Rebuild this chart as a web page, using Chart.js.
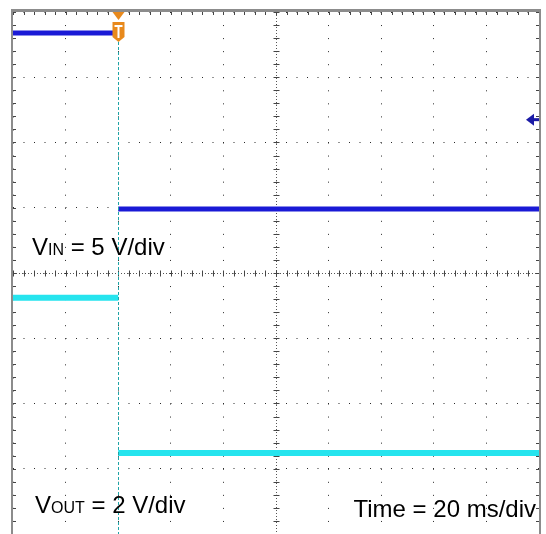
<!DOCTYPE html>
<html>
<head>
<meta charset="utf-8">
<script src="https://cdn.jsdelivr.net/npm/chart.js@4/dist/chart.umd.min.js"></script>
<style>
  html, body { margin: 0; padding: 0; background: #fff; }
  #wrap { position: relative; width: 546px; height: 534px; }
</style>
</head>
<body>
<div id="wrap"><canvas id="scope"></canvas></div>
<script>
// Scope capture, time in ms (20 ms/div), amplitude in divisions from centre
const timeMs = [-40, 0, 0, 0, 160];
const vinDiv = [3.68, 3.68, null, 0.98, 0.98];
const voutDiv = [-0.38, -0.38, null, -2.76, -2.76];
const triggerMs = 0;
const vinMarkerDiv = 2.35;

const vinLabel = ['V', 'IN', ' = 5 V/div'];
const voutLabel = ['V', 'OUT', ' = 2 V/div'];
const timeLabel = 'Time = 20 ms/div';

const toPoints = vals => timeMs.map((t, i) => ({ x: t, y: vals[i] }));

// Frame, centre-cross ticks, trigger marker and labels
const scopeDecor = {
    id: 'scopeDecor',
    beforeDatasetsDraw(chart) {
        const ctx = chart.ctx;
        const xs = chart.scales.x, ys = chart.scales.y;
        const a = chart.chartArea;
        const cx = Math.round(xs.getPixelForValue(60)) + 0.5;
        const cy = Math.round(ys.getPixelForValue(0)) + 0.5;
        ctx.save();
        // dense dotted centre cross
        ctx.strokeStyle = '#555';
        ctx.lineWidth = 1;
        ctx.setLineDash([1, 2]);
        ctx.beginPath();
        ctx.moveTo(a.left, cy); ctx.lineTo(a.right, cy);
        ctx.moveTo(cx, a.top); ctx.lineTo(cx, a.bottom);
        ctx.stroke();
        ctx.setLineDash([]);

        // ticks along centre lines and edges, every 1/5 div
        ctx.strokeStyle = '#444';
        ctx.beginPath();
        for (let t = -40; t <= 160; t += 4) {
            const px = Math.round(xs.getPixelForValue(t)) + 0.5;
            ctx.moveTo(px, cy - 3); ctx.lineTo(px, cy + 3);
            ctx.moveTo(px, a.top); ctx.lineTo(px, a.top + 3);
        }
        for (let v = -4; v <= 4.001; v += 0.2) {
            const py = Math.round(ys.getPixelForValue(v)) + 0.5;
            ctx.moveTo(cx - 3, py); ctx.lineTo(cx + 3, py);
            ctx.moveTo(a.left, py); ctx.lineTo(a.left + 3, py);
            ctx.moveTo(a.right - 3, py); ctx.lineTo(a.right, py);
        }
        ctx.stroke();
        ctx.restore();
    },
    afterDatasetsDraw(chart) {
        const ctx = chart.ctx;
        const xs = chart.scales.x, ys = chart.scales.y;
        const a = chart.chartArea;
        ctx.save();

        // frame
        ctx.strokeStyle = '#8c8c8c';
        ctx.lineWidth = 2;
        ctx.strokeRect(a.left - 1, a.top - 1, a.right - a.left + 2, a.bottom - a.top + 2);
        ctx.fillStyle = '#8c8c8c';
        ctx.fillRect(a.left - 2, a.top - 3, a.right - a.left + 4, 2);

        // trigger line
        const tx = Math.round(xs.getPixelForValue(triggerMs)) + 0.5;
        ctx.strokeStyle = '#1fa3a6';
        ctx.lineWidth = 1;
        ctx.setLineDash([3, 2]);
        ctx.beginPath();
        ctx.moveTo(tx, a.top + 30);
        ctx.lineTo(tx, a.bottom);
        ctx.stroke();
        ctx.setLineDash([]);

        // trigger marker: triangle + "T" shield
        ctx.fillStyle = '#e8891c';
        ctx.beginPath();
        ctx.moveTo(tx - 6, a.top);
        ctx.lineTo(tx + 6, a.top);
        ctx.lineTo(tx, a.top + 8);
        ctx.closePath();
        ctx.fill();
        ctx.beginPath();
        ctx.moveTo(tx - 6, a.top + 10);
        ctx.lineTo(tx + 6, a.top + 10);
        ctx.lineTo(tx + 6, a.top + 25);
        ctx.lineTo(tx, a.top + 30);
        ctx.lineTo(tx - 6, a.top + 25);
        ctx.closePath();
        ctx.fill();
        ctx.fillStyle = '#fff';
        ctx.fillRect(tx - 4, a.top + 13, 8, 2);
        ctx.fillRect(tx - 1, a.top + 13, 2, 13);

        // channel 1 reference arrow on the right edge
        const my = ys.getPixelForValue(vinMarkerDiv);
        ctx.fillStyle = '#1b1ba6';
        ctx.beginPath();
        ctx.moveTo(a.right - 13, my);
        ctx.lineTo(a.right - 5, my - 6);
        ctx.lineTo(a.right - 5, my + 6);
        ctx.closePath();
        ctx.fill();
        ctx.fillRect(a.right - 6, my - 1.5, 6, 3);

        // labels
        ctx.fillStyle = '#000';
        ctx.textBaseline = 'alphabetic';
        const drawSub = (parts, x, y) => {
            ctx.textAlign = 'left';
            ctx.font = '24px "Liberation Sans", Arial, sans-serif';
            ctx.fillText(parts[0], x, y);
            x += ctx.measureText(parts[0]).width;
            ctx.font = '16px "Liberation Sans", Arial, sans-serif';
            ctx.fillText(parts[1], x, y);
            x += ctx.measureText(parts[1]).width;
            ctx.font = '24px "Liberation Sans", Arial, sans-serif';
            ctx.fillText(parts[2], x, y);
        };
        drawSub(vinLabel, 32, 255);
        drawSub(voutLabel, 35, 513);
        ctx.font = '24px "Liberation Sans", Arial, sans-serif';
        ctx.textAlign = 'right';
        ctx.fillText(timeLabel, 536, 517);

        ctx.restore();
    }
};

const trace = (vals, color, width) => ({
    data: toPoints(vals),
    borderColor: color,
    borderWidth: width,
    pointRadius: 0,
    spanGaps: false
});

const scopeChart = new Chart(document.getElementById('scope').getContext('2d'), {
    type: 'line',
    data: {
        datasets: [
            { label: 'VIN', ...trace(vinDiv, '#1a1ad6', 5) },
            { label: 'VOUT', ...trace(voutDiv, '#26e4ee', 6) }
        ]
    },
    options: {
        responsive: true,
        maintainAspectRatio: false,
        animation: false,
        layout: { padding: { left: 13, top: 12, right: 7, bottom: 0 } },
        plugins: { legend: { display: false }, tooltip: { enabled: false } },
        scales: {
            x: {
                type: 'linear',
                min: -40,
                max: 160,
                ticks: { display: false, stepSize: 20 },
                grid: { color: '#2a2a2a', lineWidth: 1, drawTicks: false },
                border: { display: false, dash: [1, 12.05] }
            },
            y: {
                min: -4,
                max: 4,
                ticks: { display: false, stepSize: 1 },
                grid: { color: '#2a2a2a', lineWidth: 1, drawTicks: false },
                border: { display: false, dash: [1, 9.5] }
            }
        }
    },
    plugins: [scopeDecor]
});
</script>
</body>
</html>
